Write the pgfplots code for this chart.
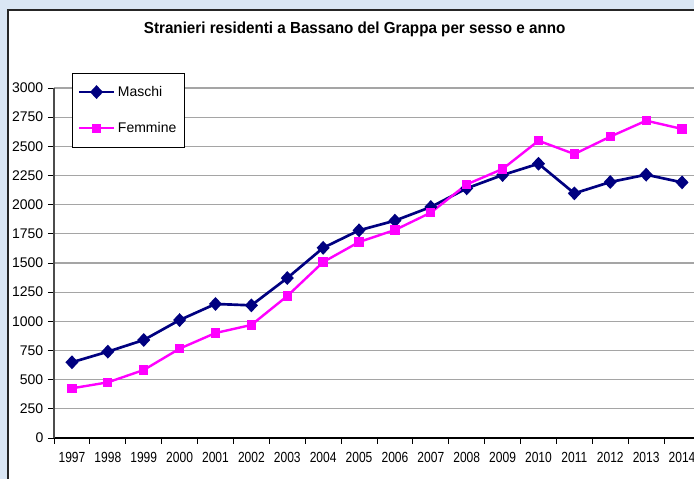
\documentclass[border=0pt]{standalone}
\usepackage{fontspec}
\setmainfont{Liberation Sans}
\newfontfamily\narrowfont[FakeStretch=0.82]{Liberation Sans}
\newfontfamily\titlefont[FakeStretch=0.95]{Liberation Sans}
\usepackage{pgfplots}
\pgfplotsset{compat=1.18}
\definecolor{navyc}{RGB}{0,0,128}
\definecolor{pinkc}{RGB}{255,0,255}
\definecolor{gridc}{RGB}{165,165,165}
\definecolor{bgblue}{RGB}{218,230,244}
\begin{document}
\begin{tikzpicture}
\path[use as bounding box] (0,0) rectangle (520.5pt,359.25pt);
\clip (0,0) rectangle (520.5pt,359.25pt);
\fill[bgblue] (0,0) rectangle (520.5pt,359.25pt);
\fill[white] (6pt,0) rectangle (530pt,351.75pt);
\draw[black!85,line width=1.1pt] (6pt,-5pt) -- (6pt,351.75pt) -- (530pt,351.75pt);
\node[anchor=base, inner sep=0pt, font=\titlefont\bfseries\fontsize{12}{13}\selectfont] at (266pt,333.75pt) {Stranieri residenti a Bassano del Grappa per sesso e anno};
\begin{axis}[
  at={(40.5pt,30.75pt)}, anchor=south west,
  scale only axis, width=484.5pt, height=262.5pt,
  xmin=0, xmax=18, ymin=0, ymax=3000,
  axis x line*=bottom, axis y line*=left,
  axis line style={-, line width=0.8pt},
  x axis line style={black},
  y axis line style={black!70},
  xtick={0.5,1.5,...,17.5},
  xticklabels={1997,1998,1999,2000,2001,2002,2003,2004,2005,2006,2007,2008,2009,2010,2011,2012,2013,2014},
  minor xtick={0,1,...,18},
  ytick={0,250,...,3000},
  tick align=outside,
  major tick length=4.5pt,
  minor tick length=4.5pt,
  tick style={black, line width=0.6pt},
  x tick style={draw=none},
  minor x tick style={draw=black, line width=0.6pt},
  ymajorgrids, grid style={gridc, line width=0.8pt},
  /pgf/number format/assume math mode=true,
  /pgf/number format/1000 sep={},
  yticklabel style={font=\fontsize{10.5}{12}\selectfont},
  xticklabel style={font=\narrowfont\fontsize{11}{12}\selectfont, yshift=-3pt},
  legend style={at={(0.0279,1.043)}, anchor=north west, draw=black, line width=0.6pt,
    font=\fontsize{10.5}{12}\selectfont, inner xsep=4pt, inner ysep=7.5pt,
    row sep=14pt, cells={anchor=west}},
  legend image code/.code={\draw[mark repeat=2,mark phase=2] plot coordinates {(0cm,0cm) (0.46cm,0cm) (0.92cm,0cm)};},
]
\addplot[navyc, line width=2pt, mark=diamond*, mark size=3.75pt, mark options={xscale=1.25, solid}] coordinates {
(0.5,649) (1.5,740) (2.5,840) (3.5,1011) (4.5,1149) (5.5,1137) (6.5,1371) (7.5,1630) (8.5,1780) (9.5,1863) (10.5,1980) (11.5,2140) (12.5,2254) (13.5,2351) (14.5,2097) (15.5,2194) (16.5,2257) (17.5,2191)};
\addlegendentry{Maschi}
\addplot[pinkc, line width=1.8pt, mark=square*, mark size=2.6pt, mark options={solid}] coordinates {
(0.5,426) (1.5,477) (2.5,583) (3.5,766) (4.5,900) (5.5,969) (6.5,1217) (7.5,1508) (8.5,1680) (9.5,1783) (10.5,1932) (11.5,2174) (12.5,2306) (13.5,2548) (14.5,2434) (15.5,2583) (16.5,2720) (17.5,2649)};
\addlegendentry{Femmine}
\end{axis}
\end{tikzpicture}
\end{document}
